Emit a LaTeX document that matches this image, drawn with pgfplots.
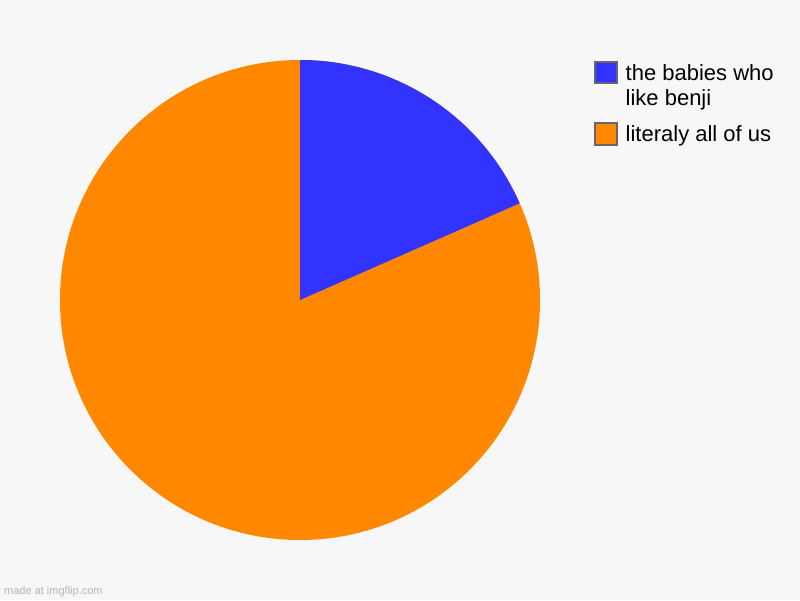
\documentclass[border=0pt]{standalone}
\usepackage{pgfplots}
\pgfplotsset{compat=1.18}
\usepackage{pgfplotstable}
\usepackage{fontspec}
\setmainfont{Liberation Sans}
\definecolor{bg}{HTML}{F7F7F7}
\definecolor{sliceblue}{HTML}{3333FF}
\definecolor{sliceorange}{HTML}{FF8800}
\definecolor{boxgray}{HTML}{666666}
\definecolor{wm}{HTML}{B4B4B4}
\pgfplotstableread{
label value
babies 18.4
all 81.6
}\piedata
\begin{document}
\begin{tikzpicture}
\pgfplotstablegetelem{0}{value}\of\piedata \let\va\pgfplotsretval
\pgfplotstablegetelem{1}{value}\of\piedata \let\vb\pgfplotsretval
\pgfmathsetmacro{\tot}{\va+\vb}
\pgfmathsetmacro{\fa}{\va/\tot}
\pgfmathsetmacro{\fb}{\vb/\tot}
\pgfmathsetmacro{\angA}{90-360*\fa}
\pgfmathsetmacro{\angB}{\angA-360*\fb}
\begin{axis}[x=1pt,y=1pt,xmin=0,xmax=800,ymin=0,ymax=600,hide axis,scale only axis,clip=false]
\fill[bg] (axis cs:0,0) rectangle (axis cs:800,600);
\fill[sliceorange] (axis cs:300,300) -- (axis cs:300,540) arc[start angle=90,end angle=\angB,radius=240pt] -- cycle;
\fill[sliceblue] (axis cs:300,300) -- (axis cs:300,540) arc[start angle=90,end angle=\angA,radius=240pt] -- cycle;
\addplot[fill=sliceblue,draw=boxgray,line width=2pt,mark=none] coordinates {(595,538)(617,538)(617,516.5)(595,516.5)} -- cycle;
\addplot[fill=sliceorange,draw=boxgray,line width=2pt,mark=none] coordinates {(595,476.5)(617,476.5)(617,454.5)(595,454.5)} -- cycle;
\node[anchor=base west,inner sep=0pt,font=\fontsize{22}{26}\selectfont] at (axis cs:625.5,519.5) {the babies who};
\node[anchor=base west,inner sep=0pt,font=\fontsize{22}{26}\selectfont] at (axis cs:625.5,494) {like benji};
\node[anchor=base west,inner sep=0pt,font=\fontsize{22}{26}\selectfont] at (axis cs:625.5,458) {literaly all of us};
\node[anchor=base west,inner sep=0pt,text=wm,font=\fontsize{11}{13}\selectfont] at (axis cs:4,6) {made at imgflip.com};
\end{axis}
\end{tikzpicture}
\end{document}
